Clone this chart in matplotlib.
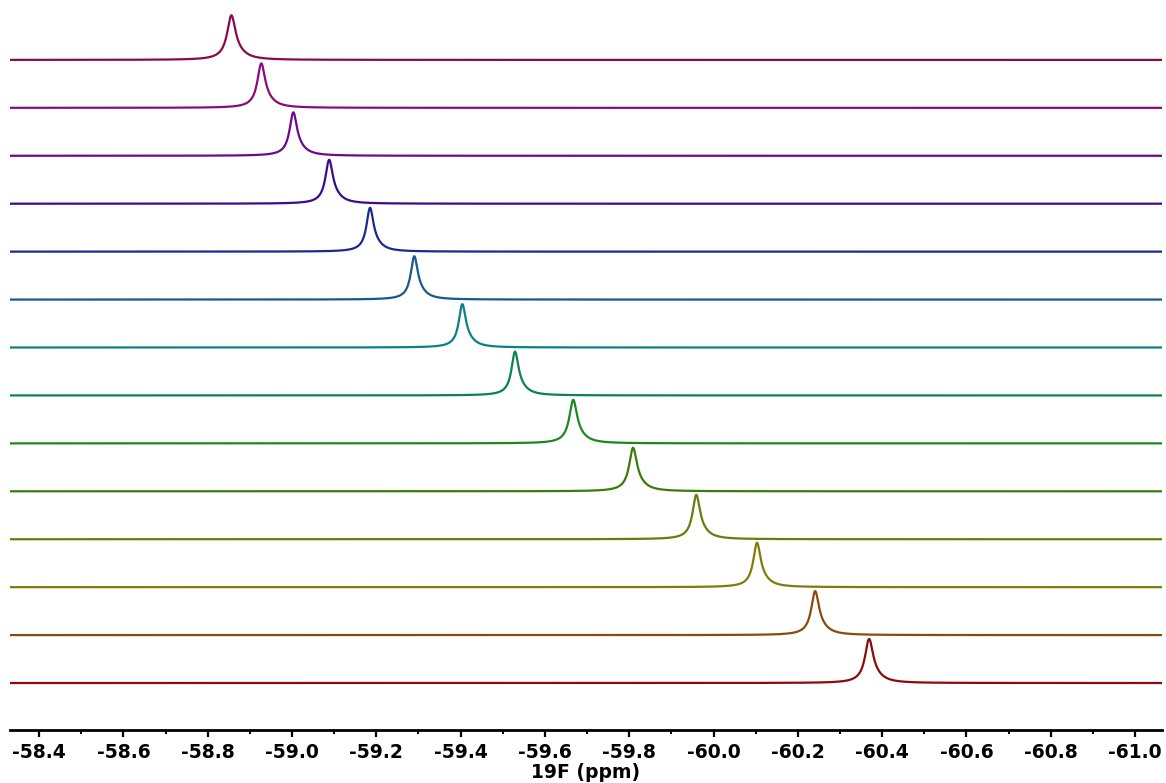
import matplotlib
matplotlib.use('Agg')
import matplotlib.pyplot as plt
import numpy as np
from matplotlib.ticker import MultipleLocator

# peak positions (ppm), top trace first
peak_ppm = [-58.856, -58.927, -59.003, -59.088, -59.185, -59.290, -59.404,
            -59.529, -59.667, -59.809, -59.959, -60.103, -60.241, -60.369]
peak_height = [0.95, 0.95, 0.93, 0.94, 0.94, 0.93, 0.93,
               0.94, 0.93, 0.93, 0.95, 0.95, 0.94, 0.94]
peak_fwhm = [0.024, 0.022, 0.021, 0.021, 0.020, 0.020, 0.020,
             0.020, 0.022, 0.022, 0.021, 0.021, 0.022, 0.023]
colors = ['#8b0a4c', '#8b0a7c', '#6a0a8e', '#3c0a8e', '#1a2a8e', '#1a5a8a',
          '#0a8282', '#0a8252', '#1a8a1e', '#3a7c0a', '#6a7c0a', '#827a0a',
          '#8b4a0a', '#8b0a0a']

x_min, x_max = -58.331, -61.064
ppm = np.linspace(x_min, x_max, 4000)


def lorentz(x, x0, fwhm):
    g = fwhm / 2
    return g ** 2 / ((x - x0) ** 2 + g ** 2)


fig = plt.figure(figsize=(11.66, 7.83), dpi=100)
ax = fig.add_axes([10 / 1166, 53 / 783, 1152 / 1166, 730 / 783])

n = len(peak_ppm)
for i, (x0, h, w, c) in enumerate(zip(peak_ppm, peak_height, peak_fwhm, colors)):
    offset = n - 1 - i
    # slight tailing toward lower (more negative) ppm
    y = h * (0.88 * lorentz(ppm, x0, w) + 0.12 * lorentz(ppm, x0 - 0.012, w * 2.2))
    ax.plot(ppm, y + offset, color=c, lw=1.6)

ax.set_xlim(x_min, x_max)
ax.set_ylim(-0.98, n - 1 + 1.25)

for s in ['left', 'right', 'top']:
    ax.spines[s].set_visible(False)
ax.spines['bottom'].set_linewidth(2)
ax.set_yticks([])

ax.xaxis.set_major_locator(MultipleLocator(0.2))
ax.xaxis.set_minor_locator(MultipleLocator(0.1))
ax.tick_params(axis='x', which='major', length=5, width=1.6, pad=4)
ax.tick_params(axis='x', which='minor', length=3, width=1.4)
ax.set_xticklabels([f'{t:.1f}' for t in ax.get_xticks()])
for lab in ax.get_xticklabels():
    lab.set_fontsize(13.5)
    lab.set_fontweight('bold')
ax.set_xlabel('19F (ppm)', fontsize=13.5, fontweight='bold', labelpad=1)

fig.savefig('out.png', dpi=100)
